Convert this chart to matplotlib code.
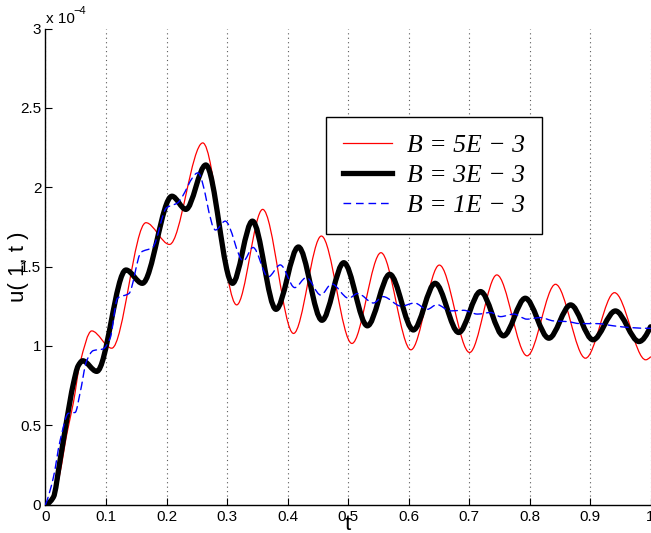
import numpy as np
import matplotlib
matplotlib.use("Agg")
import matplotlib.pyplot as plt
from matplotlib.path import Path
from matplotlib.patches import PathPatch
from matplotlib.lines import Line2D

# ---------------- data (u in units of 1e-4) ----------------
labels = ["B = 5E \u2212 3", "B = 3E \u2212 3", "B = 1E \u2212 3"]

t_red = [0, 0.013, 0.024, 0.035, 0.046, 0.057, 0.0764, 0.1095, 0.166, 0.205, 0.260,
         0.316, 0.359, 0.410, 0.456, 0.5065, 0.5545, 0.604, 0.651, 0.701, 0.746,
         0.796, 0.843, 0.8925, 0.9405, 0.992, 1.0]
u_red = [0, 0.03, 0.20, 0.44, 0.64, 0.89, 1.094, 0.985, 1.776, 1.639, 2.279,
         1.258, 1.86, 1.078, 1.692, 1.015, 1.587, 0.975, 1.509, 0.958, 1.447,
         0.937, 1.388, 0.922, 1.335, 0.912, 0.93]

t_black = [0, 0.013, 0.024, 0.035, 0.046, 0.054, 0.0615, 0.0847, 0.133, 0.160, 0.209,
           0.232, 0.265, 0.309, 0.342, 0.381, 0.418, 0.457, 0.493, 0.532, 0.569,
           0.608, 0.644, 0.683, 0.719, 0.757, 0.793, 0.832, 0.868, 0.905, 0.942,
           0.981, 1.0]
u_black = [0, 0.046, 0.277, 0.53, 0.76, 0.874, 0.906, 0.839, 1.478, 1.394, 1.943,
           1.86, 2.14, 1.394, 1.786, 1.23, 1.623, 1.161, 1.524, 1.126, 1.451,
           1.10, 1.394, 1.084, 1.342, 1.063, 1.30, 1.048, 1.258, 1.038, 1.22,
           1.027, 1.12]

t_blue = [0, 0.013, 0.024, 0.038, 0.049, 0.057, 0.068, 0.079, 0.095, 0.107, 0.119,
          0.138, 0.158, 0.177, 0.200, 0.218, 0.252, 0.281, 0.297, 0.327, 0.343,
          0.368, 0.388, 0.412, 0.431, 0.455, 0.473, 0.501, 0.516, 0.542, 0.558,
          0.588, 0.610, 0.631, 0.647, 0.669, 0.691, 0.714, 0.736, 0.752, 0.774,
          0.796, 0.818, 0.840, 0.862, 0.884, 0.912, 0.939, 0.967, 1.0]
u_blue = [0, 0.17, 0.40, 0.575, 0.58, 0.70, 0.905, 0.97, 0.98, 1.05, 1.30,
          1.33, 1.59, 1.62, 1.87, 1.90, 2.09, 1.73, 1.786, 1.535, 1.62,
          1.434, 1.51, 1.367, 1.43, 1.32, 1.39, 1.30, 1.33, 1.27, 1.31,
          1.25, 1.27, 1.23, 1.26, 1.22, 1.224, 1.20, 1.21, 1.184, 1.20,
          1.168, 1.178, 1.157, 1.153, 1.14, 1.14, 1.126, 1.115, 1.11]

x_ticks = [0, 0.1, 0.2, 0.3, 0.4, 0.5, 0.6, 0.7, 0.8, 0.9, 1.0]
x_ticklabels = ["0", "0.1", "0.2", "0.3", "0.4", "0.5", "0.6", "0.7", "0.8", "0.9", "1"]
y_ticks = [0, 0.5, 1, 1.5, 2, 2.5, 3]
y_ticklabels = ["0", "0.5", "1", "1.5", "2", "2.5", "3"]


def smooth_path(x, y):
    """Bezier path through the read points (monotone cubic tangents)."""
    x = np.asarray(x, float)
    y = np.asarray(y, float)
    h = np.diff(x)
    d = np.diff(y) / h
    n = len(x)
    m = np.zeros(n)
    for k in range(1, n - 1):
        if d[k - 1] * d[k] > 0:
            w1 = 2 * h[k] + h[k - 1]
            w2 = h[k] + 2 * h[k - 1]
            m[k] = (w1 + w2) / (w1 / d[k - 1] + w2 / d[k])
    def end(h0, h1, d0, d1):
        mm = ((2 * h0 + h1) * d0 - h0 * d1) / (h0 + h1)
        if np.sign(mm) != np.sign(d0):
            return 0.0
        if np.sign(d0) != np.sign(d1) and abs(mm) > abs(3 * d0):
            return 3 * d0
        return mm
    m[0] = end(h[0], h[1], d[0], d[1])
    m[-1] = end(h[-1], h[-2], d[-1], d[-2])
    verts = [(x[0], y[0])]
    codes = [Path.MOVETO]
    for i in range(n - 1):
        hh = h[i] / 3.0
        verts += [(x[i] + hh, y[i] + m[i] * hh),
                  (x[i + 1] - hh, y[i + 1] - m[i + 1] * hh),
                  (x[i + 1], y[i + 1])]
        codes += [Path.CURVE4] * 3
    return Path(verts, codes)


fig = plt.figure(figsize=(6.51, 5.33), dpi=100)
ax = fig.add_axes([45.5 / 651, 28.5 / 533, 605 / 651, 476 / 533])

styles = [
    dict(color="#ff0000", lw=0.9, ls="-"),
    dict(color="black", lw=3.8, ls="-"),
    dict(color="#0000ff", lw=1.0, ls=(0, (5.5, 3.5))),
]
series = [(t_red, u_red), (t_black, u_black), (t_blue, u_blue)]
for (tt, uu), st, z in zip(series, styles, [2, 3, 4]):
    patch = PathPatch(smooth_path(tt, uu), fill=False, edgecolor=st["color"],
                      lw=st["lw"], linestyle=st["ls"], zorder=z,
                      capstyle="round", joinstyle="round")
    ax.add_patch(patch)

ax.set_xlim(0, 1)
ax.set_ylim(0, 3)

tick_font = dict(family="Liberation Sans", size=11)
ax.set_xticks(x_ticks)
ax.set_xticklabels(x_ticklabels, fontdict=tick_font)
ax.set_yticks(y_ticks)
ax.set_yticklabels(y_ticklabels, fontdict=tick_font)
ax.tick_params(direction="in", length=5, width=0.8, colors="black")
ax.tick_params(axis="x", pad=4)
ax.tick_params(axis="y", pad=3)

for s in ["top", "right"]:
    ax.spines[s].set_visible(False)
for s in ["left", "bottom"]:
    ax.spines[s].set_linewidth(1.0)
    ax.spines[s].set_color("black")

ax.xaxis.grid(True, linestyle=(0, (1, 3)), color="0.35", linewidth=0.8)
ax.yaxis.grid(False)
ax.set_axisbelow(True)

ax.set_xlabel("t", fontdict=dict(family="Liberation Sans", size=16), labelpad=-7)
ax.set_ylabel("u( 1, t )", fontdict=dict(family="Liberation Sans", size=16))
ax.yaxis.set_label_coords(-0.027, 0.5)

# exponent annotation
fig.text(46 / 651, 1 - 23 / 533, "x 10", fontsize=11, family="Liberation Sans",
         ha="left", va="baseline")
fig.text(73 / 651, 1 - 14 / 533, "\u22124", fontsize=8, family="Liberation Sans",
         ha="left", va="baseline")

handles = [Line2D([], [], color=st["color"], lw=st["lw"], ls=st["ls"]) for st in styles]
leg = ax.legend(handles, labels, loc="upper left",
                bbox_to_anchor=(326 / 651, 1 - 117 / 533), bbox_transform=fig.transFigure,
                prop=dict(family="Liberation Serif", style="italic", size=18.5),
                frameon=True, fancybox=False, shadow=False, framealpha=1,
                edgecolor="black", borderpad=0.65, labelspacing=0.28,
                handlelength=1.9, handletextpad=0.6, borderaxespad=0)
leg.get_frame().set_linewidth(1.0)

fig.savefig("out.png", dpi=100)
